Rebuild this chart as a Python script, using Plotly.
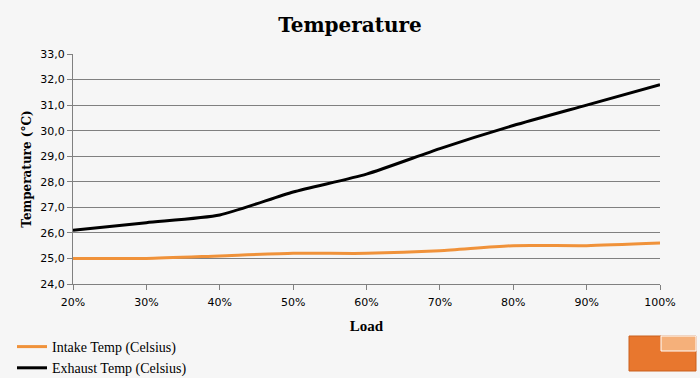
import plotly.graph_objects as go

loads = ["20%", "30%", "40%", "50%", "60%", "70%", "80%", "90%", "100%"]
intake = [25.0, 25.0, 25.1, 25.2, 25.2, 25.3, 25.5, 25.5, 25.6]
exhaust = [26.1, 26.4, 26.7, 27.6, 28.3, 29.3, 30.2, 31.0, 31.8]
y_ticks = [24, 25, 26, 27, 28, 29, 30, 31, 32, 33]

fig = go.Figure()
fig.add_trace(go.Scatter(x=loads, y=intake, mode="lines", name="Intake Temp (Celsius)",
                         line=dict(color="#f0923a", width=3, shape="spline", smoothing=0.6)))
fig.add_trace(go.Scatter(x=loads, y=exhaust, mode="lines", name="Exhaust Temp (Celsius)",
                         line=dict(color="#000000", width=3, shape="spline", smoothing=0.6)))

serif = "DejaVu Serif, Liberation Serif, serif"
lserif = "Liberation Serif, DejaVu Serif, serif"
W, H = 700, 378
PW, PH = 587, 230
fig.update_layout(
    width=W, height=H,
    paper_bgcolor="#f6f6f6", plot_bgcolor="#f6f6f6",
    separators=",.",
    margin=dict(l=73, r=40, t=54, b=94, autoexpand=False),
    title=dict(text="<b>Temperature</b>", x=0.5, xanchor="center", y=1 - 25 / H, yanchor="middle",
               font=dict(family=serif, size=20, color="#000")),
    xaxis=dict(type="category", range=[0, 8], showgrid=False, showline=True, linecolor="#808080",
               ticks="outside", tickcolor="#808080", ticklen=5, automargin=False, ticklabelstandoff=3,
               tickfont=dict(family="DejaVu Sans, Verdana, sans-serif", size=11, color="#000"),
               title=dict(text="<b>Load</b>", font=dict(family=lserif, size=15, color="#000"), standoff=12)),
    yaxis=dict(range=[24, 33], tickvals=y_ticks, tickformat=".1f", showgrid=True, gridcolor="#808080",
               gridwidth=1, zeroline=False, showline=True, linecolor="#808080", automargin=False,
               ticks="outside", tickcolor="#808080", ticklen=5,
               tickfont=dict(family="DejaVu Sans, Verdana, sans-serif", size=11, color="#000"),
               title=dict(text="<b>Temperature (°C)</b>", font=dict(family=serif, size=12, color="#000"), standoff=6)),
    legend=dict(x=(12 - 73) / PW, y=-(331 - 284) / PH, xanchor="left", yanchor="top",
                orientation="v", bgcolor="rgba(0,0,0,0)", tracegroupgap=0, itemwidth=30,
                font=dict(family=lserif, size=14, color="#000")),
    shapes=[
        dict(type="rect", xref="paper", yref="paper",
             x0=(629 - 73) / PW, x1=(696 - 73) / PW, y0=-(371 - 284) / PH, y1=-(336 - 284) / PH,
             fillcolor="#e8772e", line=dict(color="#c9601f", width=1)),
        dict(type="rect", xref="paper", yref="paper",
             x0=(661 - 73) / PW, x1=(696 - 73) / PW, y0=-(351 - 284) / PH, y1=-(336 - 284) / PH,
             fillcolor="#f5b07a", line=dict(color="#ffffff", width=1)),
    ],
)

fig.write_html("out.html", config={"displayModeBar": False},
               post_script="document.body.style.margin='0';document.body.style.background='#f6f6f6';")
